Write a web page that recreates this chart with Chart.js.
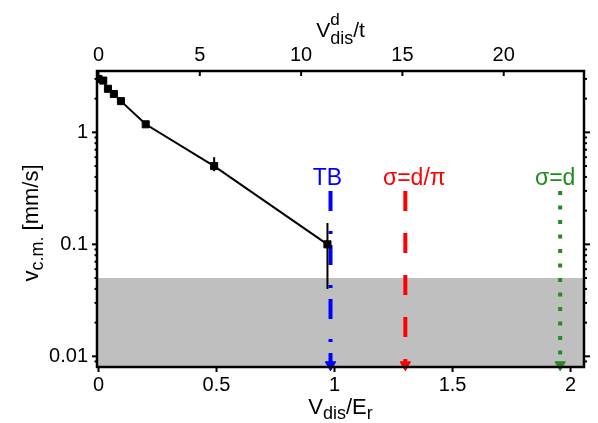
<!DOCTYPE html>
<html>
<head>
<meta charset="utf-8">
<script src="https://cdn.jsdelivr.net/npm/chart.js@4.4.0/dist/chart.umd.min.js"></script>
<style>
html, body { margin: 0; padding: 0; background: #fff; }
#wrap { position: relative; width: 598px; height: 423px; }
</style>
</head>
<body>
<div id="wrap"><canvas id="VcmChart"></canvas></div>
<script>
"use strict";

// centre-of-mass velocity vs disorder strength
const vdisOverEr = [0, 0.02, 0.04, 0.065, 0.095, 0.2, 0.49, 0.97];
const vcm = [3.0, 2.9, 2.45, 2.2, 1.9, 1.18, 0.5, 0.1];
const vcmErrLow = [null, null, null, null, null, null, 0.45, 0.04];
const vcmErrHigh = [null, null, null, null, null, null, 0.6, 0.155];

// below this the velocity can't be resolved (gray band)
const resolutionLimit = 0.05;

// critical disorder strengths
const markerNames = ["TB", "σ=d/π", "σ=d"];
const markerX = [0.983, 1.30, 1.956];
const markerTop = 0.3;
const markerBottom = 0.0084;

// axes
const xRange = [-0.0064, 2.057];
const yRange = [0.00803, 3.53];
const bottomTicks = [0, 0.5, 1, 1.5, 2];
const topTicks = [0, 5, 10, 15, 20];
const yMajorTicks = [0.01, 0.1, 1];
const vdisPerT = 11.65; // V_dis^d/t  for  V_dis/E_r = 1

const FONT = "'Liberation Sans', Arial, Helvetica, sans-serif";
const markerColors = ["#0000ff", "#ff0000", "#228b22"];
const markerDash = [[20, 20, 3, 11], [20, 22], [4, 10.5]];
const markerWidth = [4, 4, 4];
const markerLabelShift = [-3, 9, -5];

function line(ctx, x1, y1, x2, y2) {
    ctx.beginPath();
    ctx.moveTo(x1, y1);
    ctx.lineTo(x2, y2);
    ctx.stroke();
}

// text with sub/superscripts, centred on cx
function drawRich(ctx, parts, cx, baseY) {
    let total = 0;
    parts.forEach(function (p) {
        ctx.font = p.size + "px " + FONT;
        p.w = ctx.measureText(p.text).width;
        if (p.advance !== false) total += p.w;
    });
    let x = cx - total / 2;
    ctx.textAlign = "left";
    ctx.textBaseline = "alphabetic";
    parts.forEach(function (p) {
        ctx.font = p.size + "px " + FONT;
        ctx.fillText(p.text, x, baseY + (p.dy || 0));
        if (p.advance !== false) x += p.w;
    });
}

const decorPlugin = {
    id: "decor",
    afterDatasetsDraw: function (chart) {
        const ctx = chart.ctx, a = chart.chartArea;
        const sx = chart.scales.x, sx2 = chart.scales.x2, sy = chart.scales.y;
        ctx.save();
        ctx.strokeStyle = "#000";
        ctx.fillStyle = "#000";

        // error bars
        ctx.lineWidth = 2;
        vdisOverEr.forEach(function (x, i) {
            if (vcmErrLow[i] == null) return;
            const px = sx.getPixelForValue(x);
            line(ctx, px, sy.getPixelForValue(vcmErrHigh[i]), px, sy.getPixelForValue(vcmErrLow[i]));
        });

        // log ticks left (outward) and right (outward)
        for (let e = -3; e <= 0; e++) {
            for (let m = 1; m <= 9; m++) {
                const v = m * Math.pow(10, e);
                if (v < yRange[0] || v > yRange[1]) continue;
                const py = sy.getPixelForValue(v);
                const major = m === 1;
                line(ctx, a.left, py, a.left - (major ? 5 : 2.5), py);
                line(ctx, a.right, py, a.right + (major ? 6 : 3), py);
            }
        }
        bottomTicks.forEach(function (v) {
            const px = sx.getPixelForValue(v);
            line(ctx, px, a.bottom, px, a.bottom + 5);
        });
        topTicks.forEach(function (v) {
            const px = sx2.getPixelForValue(v);
            line(ctx, px, a.top, px, a.top + 5);
        });

        // frame
        ctx.lineWidth = 2.5;
        ctx.strokeRect(a.left, a.top, a.right - a.left, a.bottom - a.top);

        // marker labels
        ctx.font = "23px " + FONT;
        ctx.textAlign = "center";
        ctx.textBaseline = "alphabetic";
        markerNames.forEach(function (name, i) {
            ctx.fillStyle = markerColors[i];
            ctx.fillText(name, sx.getPixelForValue(markerX[i]) + markerLabelShift[i], sy.getPixelForValue(markerTop) - 6);
        });

        // axis titles
        ctx.fillStyle = "#000";
        const cx = (a.left + a.right) / 2;
        drawRich(ctx, [
            {text: "V", size: 22},
            {text: "dis", size: 18, dy: 5},
            {text: "/E", size: 22},
            {text: "r", size: 18, dy: 5}
        ], cx, 414);
        drawRich(ctx, [
            {text: "V", size: 21},
            {text: "d", size: 17, dy: -12, advance: false},
            {text: "dis", size: 18, dy: 7},
            {text: "/t", size: 21}
        ], cx, 37);
        ctx.save();
        ctx.translate(38, (a.top + a.bottom) / 2 + 4);
        ctx.rotate(-Math.PI / 2);
        drawRich(ctx, [
            {text: "v", size: 22},
            {text: "c.m.", size: 18, dy: 5},
            {text: " [mm/s]", size: 22}
        ], 0, 0);
        ctx.restore();
        ctx.restore();
    }
};

let datasets = [];
datasets.push({
    data: [{x: xRange[0], y: resolutionLimit}, {x: xRange[1], y: resolutionLimit}],
    borderWidth: 0,
    pointRadius: 0,
    fill: "start",
    backgroundColor: "#bfbfbf",
    order: 10
});
datasets.push({
    data: vdisOverEr.map(function (x, i) { return {x: x, y: vcm[i]}; }),
    borderColor: "#000",
    borderWidth: 2,
    pointStyle: "rect",
    pointRadius: 5,
    pointBackgroundColor: "#000",
    pointBorderColor: "#000",
    pointBorderWidth: 1,
    order: 1
});
markerX.forEach(function (x, i) {
    datasets.push({
        data: [{x: x, y: markerTop}, {x: x, y: markerBottom}],
        borderColor: markerColors[i],
        borderWidth: markerWidth[i],
        borderDash: markerDash[i],
        borderCapStyle: "butt",
        pointRadius: [0, 6],
        pointStyle: "triangle",
        rotation: 180,
        pointBackgroundColor: markerColors[i],
        pointBorderColor: markerColors[i],
        pointBorderWidth: 1,
        clip: false,
        order: 2
    });
});

const tickFont = {family: FONT, size: 20};

let vcm_chart = new Chart(document.getElementById("VcmChart"), {
    type: "line",
    data: {datasets: datasets},
    options: {
        responsive: true,
        maintainAspectRatio: false,
        animation: false,
        layout: {padding: 0},
        plugins: {legend: {display: false}, tooltip: {enabled: false}},
        scales: {
            x: {
                type: "linear",
                position: "bottom",
                min: xRange[0],
                max: xRange[1],
                afterBuildTicks: function (s) { s.ticks = bottomTicks.map(function (v) { return {value: v}; }); },
                afterFit: function (s) { s.height = 56; },
                grid: {display: false, drawTicks: false, tickLength: 0},
                border: {display: false},
                ticks: {font: tickFont, color: "#000", padding: 6, maxRotation: 0, autoSkip: false,
                    callback: function (v) { return String(v); }}
            },
            x2: {
                type: "linear",
                position: "top",
                min: xRange[0] * vdisPerT,
                max: xRange[1] * vdisPerT,
                afterBuildTicks: function (s) { s.ticks = topTicks.map(function (v) { return {value: v}; }); },
                afterFit: function (s) { s.height = 71; },
                grid: {display: false, drawTicks: false, tickLength: 0},
                border: {display: false},
                ticks: {font: tickFont, color: "#000", padding: 4, maxRotation: 0, autoSkip: false,
                    callback: function (v) { return String(v); }}
            },
            y: {
                type: "logarithmic",
                position: "left",
                min: yRange[0],
                max: yRange[1],
                afterBuildTicks: function (s) { s.ticks = yMajorTicks.map(function (v) { return {value: v}; }); },
                afterFit: function (s) { s.width = 97; },
                grid: {display: false, drawTicks: false, tickLength: 0},
                border: {display: false},
                ticks: {font: tickFont, color: "#000", padding: 9, autoSkip: false,
                    callback: function (v) { return String(v); }}
            },
            y2: {
                type: "logarithmic",
                position: "right",
                min: yRange[0],
                max: yRange[1],
                afterFit: function (s) { s.width = 14; },
                grid: {display: false, drawTicks: false, tickLength: 0},
                border: {display: false},
                ticks: {display: false}
            }
        }
    },
    plugins: [decorPlugin]
});
</script>
</body>
</html>
